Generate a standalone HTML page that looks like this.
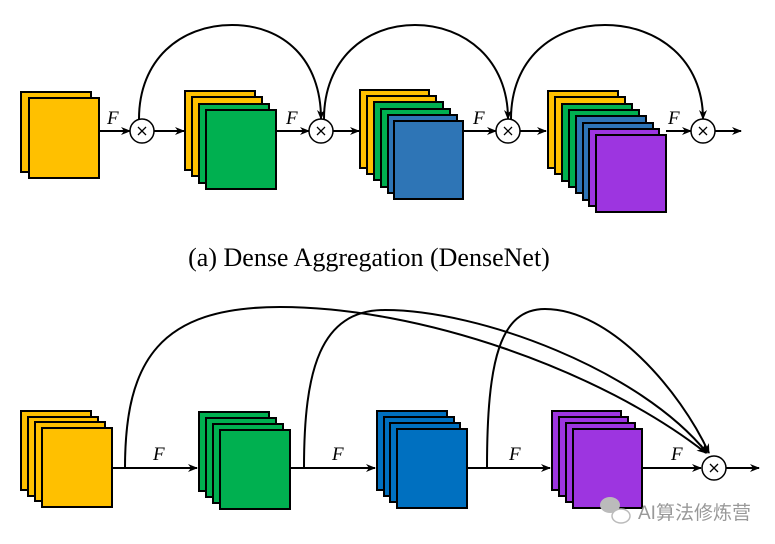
<!DOCTYPE html>
<html><head><meta charset="utf-8"><style>
html,body{margin:0;padding:0;background:#fff;}
svg{display:block}
</style></head><body>
<svg width="775" height="544" viewBox="0 0 775 544" xmlns="http://www.w3.org/2000/svg">
<defs>
<marker id="a" markerWidth="10" markerHeight="8" refX="9" refY="4" orient="auto" markerUnits="userSpaceOnUse">
<path d="M0,0 L10,4 L0,8 L3,4 Z" fill="#000"/></marker>
</defs>
<g stroke="#000" stroke-width="2">
<rect x="21" y="92" width="70" height="80" fill="#FFC000"/>
<rect x="29" y="98" width="70" height="80" fill="#FFC000"/>

<rect x="185" y="91" width="70" height="79" fill="#FFC000"/>
<rect x="192" y="97" width="70" height="79" fill="#FFC000"/>
<rect x="199" y="104" width="70" height="79" fill="#00B050"/>
<rect x="206" y="110" width="70" height="79" fill="#00B050"/>

<rect x="360" y="90" width="69" height="78" fill="#FFC000"/>
<rect x="367" y="96" width="69" height="78" fill="#FFC000"/>
<rect x="374" y="102" width="69" height="78" fill="#00B050"/>
<rect x="381" y="109" width="69" height="78" fill="#00B050"/>
<rect x="388" y="115" width="69" height="78" fill="#2E75B6"/>
<rect x="394" y="121" width="69" height="78" fill="#2E75B6"/>

<rect x="548" y="91" width="70" height="77" fill="#FFC000"/>
<rect x="555" y="97" width="70" height="77" fill="#FFC000"/>
<rect x="562" y="104" width="70" height="77" fill="#00B050"/>
<rect x="569" y="110" width="70" height="77" fill="#00B050"/>
<rect x="576" y="116" width="70" height="77" fill="#2E75B6"/>
<rect x="583" y="123" width="70" height="77" fill="#2E75B6"/>
<rect x="589" y="129" width="70" height="77" fill="#9D35E0"/>
<rect x="596" y="135" width="70" height="77" fill="#9D35E0"/>

<line x1="99" y1="131" x2="130" y2="131" marker-end="url(#a)"/>
<line x1="154" y1="131" x2="184" y2="131" marker-end="url(#a)"/>
<line x1="276" y1="131" x2="309" y2="131" marker-end="url(#a)"/>
<line x1="333" y1="131" x2="359" y2="131" marker-end="url(#a)"/>
<line x1="463" y1="131" x2="496" y2="131" marker-end="url(#a)"/>
<line x1="520" y1="131" x2="546" y2="131" marker-end="url(#a)"/>
<line x1="666" y1="131" x2="691" y2="131" marker-end="url(#a)"/>
<line x1="715" y1="131" x2="741" y2="131" marker-end="url(#a)"/>
<g fill="none">
<path d="M139,119 C139,60 180,25 232,25 C284,25 321,60 321,119" marker-end="url(#a)"/>
<path d="M324,119 C324,60 365,25 415,25 C465,25 508,60 508,119" marker-end="url(#a)"/>
<path d="M511,119 C511,60 552,25 605,25 C658,25 703,60 703,119" marker-end="url(#a)"/>
</g>
<g fill="#fff" stroke-width="1.5">
<circle cx="142" cy="131" r="12"/><circle cx="321" cy="131" r="12"/>
<circle cx="508" cy="131" r="12"/><circle cx="703" cy="131" r="12"/>
</g>

<rect x="21" y="411" width="70" height="79" fill="#FFC000"/>
<rect x="28" y="417" width="70" height="79" fill="#FFC000"/>
<rect x="35" y="422" width="70" height="79" fill="#FFC000"/>
<rect x="42" y="428" width="70" height="79" fill="#FFC000"/>

<rect x="199" y="412" width="70" height="79" fill="#00B050"/>
<rect x="206" y="418" width="70" height="79" fill="#00B050"/>
<rect x="213" y="424" width="70" height="79" fill="#00B050"/>
<rect x="220" y="430" width="70" height="79" fill="#00B050"/>

<rect x="377" y="411" width="70" height="79" fill="#0070C0"/>
<rect x="384" y="417" width="70" height="79" fill="#0070C0"/>
<rect x="390" y="423" width="70" height="79" fill="#0070C0"/>
<rect x="397" y="429" width="70" height="79" fill="#0070C0"/>

<rect x="552" y="411" width="69" height="79" fill="#9D35E0"/>
<rect x="559" y="417" width="69" height="79" fill="#9D35E0"/>
<rect x="566" y="423" width="69" height="79" fill="#9D35E0"/>
<rect x="573" y="429" width="69" height="79" fill="#9D35E0"/>

<line x1="112" y1="468" x2="197" y2="468" marker-end="url(#a)"/>
<line x1="290" y1="468" x2="375" y2="468" marker-end="url(#a)"/>
<line x1="467" y1="468" x2="550" y2="468" marker-end="url(#a)"/>
<line x1="642" y1="468" x2="701" y2="468" marker-end="url(#a)"/>
<line x1="726" y1="468" x2="759" y2="468" marker-end="url(#a)"/>
<g fill="none">
<path d="M125,468 C125,360 160,307 280,307 C420,307 600,370 706,453" marker-end="url(#a)"/>
<path d="M304,468 C304,370 320,310 385,310 C480,310 640,370 707,453" marker-end="url(#a)"/>
<path d="M487,468 C487,360 500,309 545,309 C610,309 680,390 709,453" marker-end="url(#a)"/>
</g>
<circle cx="714" cy="468" r="12" fill="#fff" stroke-width="1.5"/>
</g>
<g stroke="#000" stroke-width="1.3">
<path d="M138,127 L146,135 M146,127 L138,135"/>
<path d="M317,127 L325,135 M325,127 L317,135"/>
<path d="M504,127 L512,135 M512,127 L504,135"/>
<path d="M699,127 L707,135 M707,127 L699,135"/>
<path d="M710,464 L718,472 M718,464 L710,472"/>
</g>
<g font-family="Liberation Serif, serif" font-style="italic" font-size="19" fill="#000">
<text x="107" y="124">F</text><text x="286" y="124">F</text>
<text x="473" y="124">F</text><text x="668" y="124">F</text>
<text x="153" y="460">F</text><text x="332" y="460">F</text>
<text x="509" y="460">F</text><text x="671" y="460">F</text>
</g>
<text x="369" y="266" text-anchor="middle" font-family="Liberation Serif, serif" font-size="26" fill="#000">(a) Dense Aggregation (DenseNet)</text>
<g fill="#bbb">
<ellipse cx="610" cy="505" rx="10" ry="8"/>
<ellipse cx="621" cy="516" rx="9" ry="7" fill="#fff" stroke="#bbb" stroke-width="1.5"/>
</g>
<text x="638" y="519" font-family="Liberation Sans, 'Noto Sans CJK SC', sans-serif" font-size="19" fill="#999">AI算法修炼营</text>
</svg>
</body></html>
